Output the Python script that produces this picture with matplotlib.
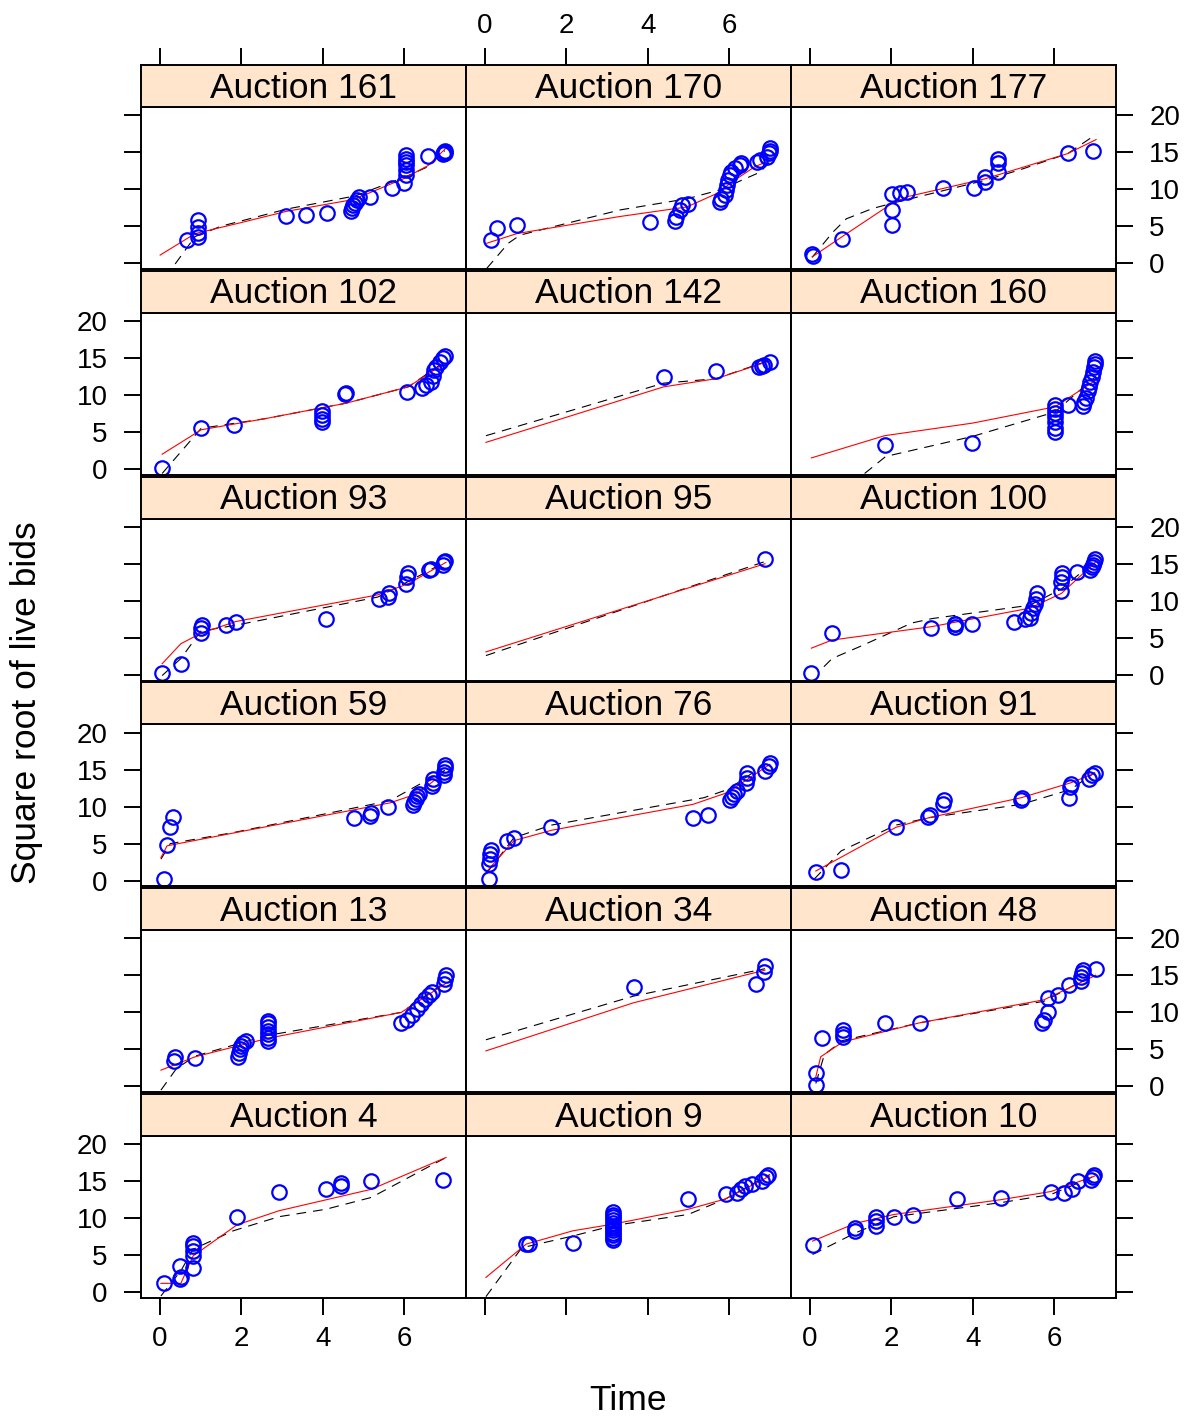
import matplotlib
matplotlib.use('Agg')
import matplotlib.pyplot as plt

plt.rcParams['font.family'] = ['Liberation Sans', 'DejaVu Sans']
plt.rcParams['lines.scale_dashes'] = False

# ---- data: time / sqrt(live bids) per auction, plus the two smooths ----
t161 = [0.66, 0.93, 0.93, 0.93, 0.93, 3.10, 3.58, 4.10, 4.70, 4.72, 4.75, 4.80, 4.85, 4.88,
        5.16, 5.69, 6.00, 6.05, 6.05, 6.05, 6.05, 6.05, 6.05, 6.59, 6.95, 6.98, 7.00, 7.01]
y161 = [3.2, 5.8, 4.9, 4.1, 3.5, 6.4, 6.5, 6.8, 7.1, 7.4, 7.8, 8.2, 8.6, 9.0,
        9.0, 10.1, 10.8, 11.9, 12.6, 13.2, 13.7, 14.1, 14.6, 14.5, 14.8, 15.0, 15.1, 14.9]
red161 = [(0.0, 1.1), (0.86, 4.0), (2.0, 5.5), (3.1, 7.0), (4.75, 8.6), (5.98, 11.4), (6.59, 13.2), (7.0, 15.4)]
blk161 = [(0.37, -0.1), (0.86, 3.6), (1.5, 5.0), (3.1, 7.3), (4.8, 9.1), (6.0, 11.6), (6.57, 13.0), (7.0, 15.2)]

t170 = [0.14, 0.29, 0.78, 4.05, 4.67, 4.70, 4.79, 4.83, 5.00, 5.77, 5.80, 5.90, 5.93,
        5.95, 5.97, 6.02, 6.05, 6.14, 6.27, 6.30, 6.68, 6.77, 6.92, 6.97, 7.00, 7.01]
y170 = [3.2, 4.7, 5.1, 5.6, 5.7, 6.3, 7.2, 7.8, 8.0, 8.3, 8.7, 9.2, 9.9,
        10.5, 11.2, 11.9, 12.3, 12.8, 13.2, 13.5, 13.7, 14.0, 14.4, 14.9, 15.5, 15.2]
red170 = [(0.04, 2.7), (0.78, 4.0), (3.3, 6.3), (4.96, 7.6), (5.77, 9.6), (6.02, 10.8), (6.62, 13.0), (7.04, 14.0)]
blk170 = [(0.04, -0.7), (0.57, 2.7), (0.86, 3.8), (3.32, 7.2), (4.96, 8.7), (5.77, 9.9), (6.76, 12.3), (7.04, 13.9)]

t177 = [0.05, 0.06, 0.79, 2.02, 2.02, 2.02, 2.20, 2.38, 3.26, 4.04, 4.29, 4.30, 4.61, 4.61, 4.62, 6.33, 6.95]
y177 = [1.3, 1.0, 3.3, 5.1, 7.2, 9.3, 9.5, 9.6, 10.1, 10.1, 11.0, 11.6, 12.3, 13.5, 14.1, 14.9, 15.2]
red177 = [(0.05, 0.85), (0.79, 3.6), (2.02, 8.1), (2.4, 9.0), (4.3, 11.4), (6.33, 14.8), (7.03, 16.7)]
blk177 = [(0.05, 0.8), (0.56, 4.2), (0.89, 6.0), (1.54, 7.4), (2.02, 8.1), (4.3, 11.2), (5.15, 12.6), (6.33, 14.8), (7.03, 17.4)]

t102 = [0.05, 1.01, 1.81, 3.99, 3.99, 3.99, 3.99, 4.55, 4.56, 6.08, 6.45, 6.54, 6.65, 6.70, 6.73, 6.78, 6.88, 6.95, 7.00]
y102 = [0.2, 5.5, 6.0, 7.9, 7.3, 6.8, 6.3, 10.1, 10.3, 10.4, 10.9, 11.3, 11.8, 12.6, 13.4, 13.8, 14.5, 15.0, 15.3]
red102 = [(0.05, 2.0), (1.01, 5.3), (2.58, 6.8), (4.58, 8.9), (6.1, 11.1), (7.0, 14.3)]
blk102 = [(0.05, -0.6), (1.01, 5.5), (2.58, 6.8), (4.58, 8.9), (6.1, 11.1), (7.0, 14.5)]

t142 = [4.39, 5.68, 6.73, 6.80, 6.85, 7.00]
y142 = [12.4, 13.3, 13.8, 13.9, 14.1, 14.4]
red142 = [(0.02, 3.6), (4.39, 11.1), (5.68, 12.2), (7.0, 14.6)]
blk142 = [(0.02, 4.5), (4.39, 11.6), (5.68, 12.2), (7.0, 14.7)]

t160 = [1.83, 3.98, 6.02, 6.02, 6.02, 6.02, 6.02, 6.02, 6.02, 6.33, 6.71,
        6.73, 6.78, 6.82, 6.85, 6.88, 6.92, 6.95, 6.98, 7.00, 7.00]
y160 = [3.2, 3.5, 8.6, 8.1, 7.6, 7.0, 6.3, 5.6, 5.0, 8.6, 8.5,
        9.1, 9.6, 10.6, 11.1, 11.8, 12.4, 13.1, 13.8, 14.2, 14.6]
red160 = [(0.03, 1.5), (1.83, 4.5), (3.99, 6.2), (6.02, 8.4), (7.02, 12.0)]
blk160 = [(1.34, -0.6), (1.86, 1.7), (3.99, 4.4), (6.02, 7.7), (7.02, 12.5)]

t93 = [0.05, 0.51, 1.00, 1.00, 1.02, 1.63, 1.86, 4.08, 5.38, 5.60, 5.62, 6.04, 6.08, 6.10, 6.60, 6.66, 6.95, 6.98, 7.00]
y93 = [0.2, 1.5, 5.6, 6.3, 6.7, 6.7, 7.2, 7.6, 10.2, 10.5, 11.0, 12.3, 13.2, 13.7, 14.1, 14.3, 14.8, 15.2, 15.4]
red93 = [(0.05, 1.5), (0.51, 4.2), (1.0, 5.6), (1.86, 7.2), (5.35, 10.8), (6.1, 12.3), (7.03, 15.2)]
blk93 = [(0.05, -0.1), (0.51, 2.2), (1.0, 5.9), (1.86, 6.7), (5.35, 10.5), (6.1, 12.6), (7.03, 15.3)]

t95 = [6.88]
y95 = [15.7]
red95 = [(0.02, 3.1), (6.88, 15.0)]
blk95 = [(0.02, 2.6), (6.88, 15.3)]

t100 = [0.03, 0.54, 2.98, 3.55, 3.55, 3.56, 3.99, 5.02, 5.29, 5.40, 5.44, 5.48, 5.52,
        5.55, 5.58, 6.18, 6.18, 6.19, 6.20, 6.56, 6.88, 6.92, 6.95, 6.98, 7.00]
y100 = [0.2, 5.7, 6.3, 6.5, 6.8, 6.9, 6.8, 7.2, 7.5, 7.7, 8.3, 9.0, 9.6,
        10.3, 11.0, 11.3, 12.6, 13.2, 13.7, 13.9, 14.1, 14.5, 14.9, 15.3, 15.6]
red100 = [(0.03, 3.6), (0.54, 4.7), (2.98, 6.5), (5.4, 9.0), (6.18, 11.0), (7.03, 15.3)]
blk100 = [(0.34, 1.1), (0.54, 2.2), (1.3, 4.0), (2.5, 7.0), (3.0, 7.6), (5.4, 9.4), (6.18, 11.6), (7.03, 15.5)]

t59 = [0.09, 0.17, 0.25, 0.31, 4.76, 5.16, 5.18, 5.60, 6.22, 6.25, 6.28, 6.32, 6.37, 6.68, 6.70, 6.72, 6.98, 6.99, 7.00, 7.01]
y59 = [0.2, 4.8, 7.3, 8.6, 8.5, 8.7, 9.2, 10.0, 10.2, 10.6, 11.0, 11.4, 11.7, 12.8, 13.2, 13.7, 14.3, 14.7, 15.2, 15.6]
red59 = [(0.02, 3.1), (0.17, 4.7), (5.65, 10.5), (6.3, 11.7), (7.0, 14.6)]
blk59 = [(0.02, 2.9), (0.25, 5.0), (1.81, 6.5), (5.65, 10.8), (7.0, 14.9)]

t76 = [0.09, 0.10, 0.12, 0.13, 0.15, 0.54, 0.71, 1.63, 5.11, 5.47, 6.03, 6.08, 6.13, 6.19, 6.42, 6.43, 6.45, 6.88, 6.98, 7.00]
y76 = [0.2, 2.2, 2.9, 3.6, 4.2, 5.3, 5.8, 7.3, 8.5, 8.8, 10.9, 11.3, 11.7, 12.1, 13.2, 13.9, 14.6, 14.8, 15.5, 15.9]
red76 = [(0.05, 1.3), (0.71, 5.4), (1.63, 6.8), (5.11, 10.3), (5.96, 11.9), (7.0, 15.7)]
blk76 = [(0.05, 1.1), (0.71, 5.8), (1.63, 7.5), (5.38, 11.2), (5.96, 12.3), (7.0, 16.1)]

t91 = [0.14, 0.77, 2.11, 2.90, 2.94, 3.26, 3.28, 5.18, 5.20, 6.36, 6.39, 6.41, 6.85, 6.93, 7.00]
y91 = [1.2, 1.4, 7.3, 8.6, 8.9, 10.4, 10.9, 10.9, 11.2, 11.2, 12.7, 13.0, 13.7, 14.2, 14.6]
red91 = [(0.14, 1.3), (2.11, 7.2), (2.92, 8.5), (5.19, 11.2), (6.4, 13.2), (7.0, 14.5)]
blk91 = [(0.1, 0.2), (0.76, 4.0), (2.11, 7.5), (2.92, 8.5), (5.19, 10.3), (6.4, 12.3), (7.0, 14.6)]

t13 = [0.35, 0.37, 0.86, 1.92, 1.94, 1.96, 2.00, 2.04, 2.10, 2.65, 2.65, 2.65, 2.65, 2.66,
       2.66, 2.66, 5.93, 6.06, 6.20, 6.32, 6.42, 6.52, 6.60, 6.68, 6.98, 7.00, 7.02]
y13 = [3.4, 4.0, 3.8, 4.0, 4.5, 5.0, 5.4, 5.8, 6.2, 6.1, 6.6, 7.1, 7.5, 8.0,
       8.5, 8.9, 8.5, 9.0, 9.7, 10.4, 11.1, 11.8, 12.4, 12.8, 13.9, 14.5, 15.0]
red13 = [(0.02, 2.2), (0.86, 4.0), (2.65, 6.5), (5.93, 10.0), (7.02, 13.9)]
blk13 = [(0.02, -0.5), (0.4, 2.4), (0.86, 4.1), (2.65, 6.9), (5.93, 10.0), (7.02, 14.1)]

t34 = [3.65, 6.65, 6.85, 6.88]
y34 = [13.4, 13.8, 15.5, 16.2]
red34 = [(0.02, 4.8), (3.65, 11.3), (6.88, 15.7)]
blk34 = [(0.02, 6.3), (3.65, 12.2), (6.88, 15.9)]

t48 = [0.14, 0.14, 0.30, 0.80, 0.81, 0.80, 1.83, 2.69, 5.70, 5.75, 5.85, 5.85, 6.10, 6.36, 6.65, 6.67, 6.69, 6.70, 7.02]
y48 = [0.2, 1.8, 6.6, 6.7, 7.1, 7.6, 8.6, 8.5, 8.6, 9.0, 10.0, 11.9, 12.3, 13.7, 14.2, 14.8, 15.3, 15.7, 15.9]
red48 = [(0.14, 1.3), (0.26, 4.0), (0.8, 6.0), (2.7, 8.6), (5.75, 11.7), (7.02, 15.0)]
blk48 = [(0.14, 0.4), (0.35, 4.3), (0.8, 6.2), (2.7, 8.6), (5.75, 11.5), (7.02, 15.2)]

t4 = [0.09, 0.50, 0.52, 0.50, 0.81, 0.81, 0.81, 0.81, 0.81, 1.89, 2.92, 4.07, 4.45, 4.45, 5.19, 6.96]
y4 = [1.2, 1.8, 2.0, 3.6, 3.3, 4.9, 5.6, 6.3, 6.7, 10.2, 13.5, 13.9, 14.4, 14.8, 15.0, 15.2]
red4 = [(0.02, 1.2), (0.51, 1.2), (0.81, 4.9), (1.89, 9.1), (2.92, 11.0), (5.19, 13.9), (7.03, 18.2)]
blk4 = [(0.02, -0.5), (0.51, 2.9), (0.81, 5.8), (1.8, 8.3), (2.92, 10.2), (4.07, 11.2), (5.19, 12.8), (7.03, 18.2)]

t9 = [1.01, 1.08, 2.16, 3.15, 3.15, 3.15, 3.15, 3.15, 3.15, 3.15, 3.15, 3.15, 3.15, 3.15, 3.15,
      4.99, 5.91, 6.20, 6.30, 6.40, 6.55, 6.80, 6.90, 6.95]
y9 = [6.5, 6.5, 6.6, 7.0, 7.3, 7.7, 8.0, 8.4, 8.7, 9.0, 9.4, 9.7, 10.1, 10.4, 10.8,
      12.6, 13.2, 13.4, 13.9, 14.3, 14.6, 15.0, 15.5, 15.8]
red9 = [(0.02, 2.0), (1.01, 6.5), (2.16, 8.3), (3.15, 9.2), (4.99, 11.2), (5.91, 12.6), (7.0, 15.7)]
blk9 = [(0.02, -0.6), (0.9, 6.0), (2.16, 7.6), (3.15, 9.0), (4.99, 10.5), (5.91, 12.6), (7.0, 15.9)]

t10 = [0.06, 1.11, 1.11, 1.62, 1.62, 1.63, 2.06, 2.54, 3.61, 4.69, 5.92, 6.25, 6.45, 6.59, 6.90, 6.95, 6.97]
y10 = [6.4, 8.3, 8.7, 9.0, 9.6, 10.1, 10.2, 10.4, 12.6, 12.7, 13.5, 13.4, 14.0, 15.0, 15.2, 15.6, 15.8]
red10 = [(0.06, 6.9), (1.11, 9.3), (2.06, 10.5), (4.69, 12.5), (5.92, 13.6), (7.0, 15.7)]
blk10 = [(0.06, 5.1), (1.11, 8.0), (2.06, 10.2), (4.69, 12.1), (5.92, 13.2), (7.0, 15.7)]

panels = [
    ('Auction 161', t161, y161, red161, blk161),
    ('Auction 170', t170, y170, red170, blk170),
    ('Auction 177', t177, y177, red177, blk177),
    ('Auction 102', t102, y102, red102, blk102),
    ('Auction 142', t142, y142, red142, blk142),
    ('Auction 160', t160, y160, red160, blk160),
    ('Auction 93', t93, y93, red93, blk93),
    ('Auction 95', t95, y95, red95, blk95),
    ('Auction 100', t100, y100, red100, blk100),
    ('Auction 59', t59, y59, red59, blk59),
    ('Auction 76', t76, y76, red76, blk76),
    ('Auction 91', t91, y91, red91, blk91),
    ('Auction 13', t13, y13, red13, blk13),
    ('Auction 34', t34, y34, red34, blk34),
    ('Auction 48', t48, y48, red48, blk48),
    ('Auction 4', t4, y4, red4, blk4),
    ('Auction 9', t9, y9, red9, blk9),
    ('Auction 10', t10, y10, red10, blk10),
]

xticks = [0, 2, 4, 6]
yticks = [0, 5, 10, 15, 20]

# ---- layout (pixels of a 1198x1420 canvas) ----
W, H = 1198, 1420
col_left = [141, 466, 791]
pw = 325
strip_h = 42
panel_h = 162
row_step = 205.8
xlim = (-0.47, 7.52)
ylim = (-0.78, 21.1)
strip_col = '#FFE5CC'


def frac(x, y, w, h):
    return [x / W, 1 - (y + h) / H, w / W, h / H]


fig = plt.figure(figsize=(W / 100, H / 100), dpi=100)

for i, (name, t, v, red, blk) in enumerate(panels):
    r, c = divmod(i, 3)
    top = 65 + r * row_step

    ax = fig.add_axes(frac(col_left[c], top + strip_h, pw, panel_h))
    ax.plot([p[0] for p in blk], [p[1] for p in blk], color='black', lw=0.8, dashes=(7, 5))
    ax.plot([p[0] for p in red], [p[1] for p in red], color='red', lw=0.8)
    ax.plot(t, v, 'o', mfc='none', mec='blue', ms=10.4, mew=1.6, clip_on=False)
    ax.set_xlim(xlim)
    ax.set_ylim(ylim)
    ax.set_xticks(xticks)
    ax.set_yticks(yticks)
    for s in ax.spines.values():
        s.set_linewidth(1.4)
    ax.tick_params(direction='out', length=12, width=1.4, labelsize=20,
                   left=(c == 0), labelleft=(c == 0 and r % 2 == 1),
                   right=(c == 2), labelright=(c == 2 and r % 2 == 0),
                   bottom=(r == 5), labelbottom=(r == 5 and c != 1),
                   top=False, labeltop=False)
    ax.tick_params(axis='y', pad=12)
    ax.tick_params(axis='x', pad=8)

    sax = fig.add_axes(frac(col_left[c], top, pw, strip_h))
    sax.set_facecolor(strip_col)
    sax.set_xlim(xlim)
    sax.set_ylim(0, 1)
    sax.set_yticks([])
    sax.set_xticks(xticks)
    for s in sax.spines.values():
        s.set_linewidth(1.4)
    sax.tick_params(direction='out', length=12, width=1.4, labelsize=20, pad=7,
                    bottom=False, labelbottom=False,
                    top=(r == 0), labeltop=(r == 0 and c == 1))
    sax.text(0.5, 0.45, name, transform=sax.transAxes, ha='center', va='center', fontsize=25.5)

fig.text(27 / W, 1 - 703 / H, 'Square root of live bids', rotation=90,
         ha='center', va='center', fontsize=25.5)
fig.text(628 / W, 1 - 1400 / H, 'Time', ha='center', va='center', fontsize=25.5)

fig.savefig('out.png', dpi=100)
